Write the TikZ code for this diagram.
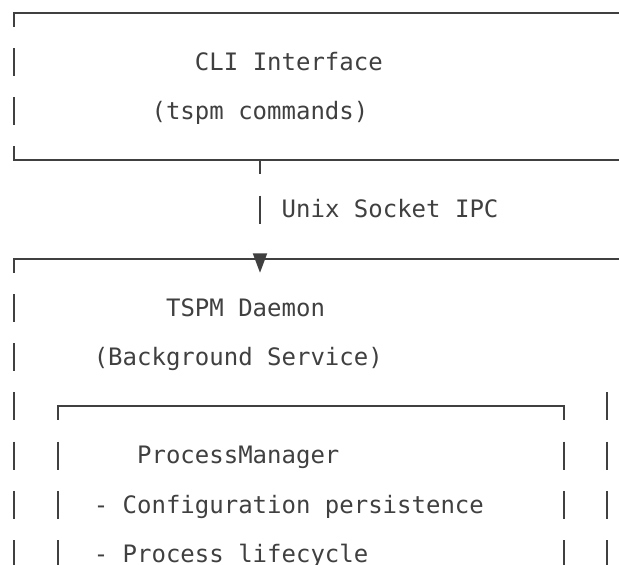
\documentclass[tikz,border=0pt]{standalone}
\usepackage{fontspec}
\newfontfamily\diagfont{DejaVu Sans Mono}
\usetikzlibrary{
arrows.meta,
positioning,
}
\definecolor{ink}{HTML}{404040}
\tikzset{
every node/.style={inner sep=0pt, outer sep=0pt},
monotext/.style={anchor=base west, text=ink, font=\diagfont\fontsize{18pt}{18pt}\selectfont},
frame/.style={rectangle, anchor=north west},
hline/.style={draw=ink, line width=1.5pt, line cap=rect},
vline/.style={draw=ink, line width=1.5pt, dash pattern=on 20.955pt off 15.945pt, dash phase=10.4775pt},
rim/.style={vline, dash phase=0pt},
link/.style={draw=ink, line width=1.5pt, dash pattern=on 10.4775pt off 15.945pt on 20.955pt off 40pt,
  -{Triangle[width=10.5pt,length=14.6pt]}},
}

\begin{document}
\begin{tikzpicture}[x=10.84pt, y=-36.9pt]
\useasboundingbox (0pt,0pt) rectangle (464.25pt,-423.75pt);
\fill[white] (0pt,0pt) rectangle (464.25pt,-423.75pt);
\clip (0pt,0pt) rectangle (464.25pt,-423.75pt);
\begin{scope}[shift={(5.3pt,-15.83pt)}]
    % boxes: corners sit on the line midpoints of the text rows
    \node (cli) [frame, minimum width=50*10.84pt, minimum height=3*36.9pt] at (0.5,-0.1689) {};
    \node (daemon) [frame, minimum width=50*10.84pt, minimum height=9*36.9pt] at (0.5,4.8311) {};
    \node (pm) [frame, minimum width=35*10.84pt, minimum height=6*36.9pt] at (3.5,7.8311) {};
    \draw[hline] (cli.north west) -- (cli.north east);
    \draw[vline] (cli.north west) -- (cli.south west);
    \draw[hline] (cli.south west) -- (cli.south east);
    \draw[hline] (daemon.north west) -- (daemon.north east);
    \draw[vline] (daemon.north west) -- (daemon.south west);
    \coordinate (edge) at (41.5,7.5472);
    \draw[rim] (edge) -- (edge |- daemon.south);
    \draw[hline] (pm.north west) -- (pm.north east);
    \draw[vline] (pm.north west) -- (pm.south west);
    \draw[vline] (pm.north east) -- (pm.south east);
    % texts
    \node (cli title) [monotext] at (13,1) {CLI Interface};
    \node (cli note) [monotext] at (10,2) {(tspm commands)};
    \node (ipc) [monotext] at (19,4) {Unix Socket IPC};
    \node (daemon title) [monotext] at (11,6) {TSPM Daemon};
    \node (daemon note) [monotext] at (6,7) {(Background Service)};
    \node (pm title) [monotext] at (9,9) {ProcessManager};
    \node (pm item1) [monotext] at (6,10) {- Configuration persistence};
    \node (pm item2) [monotext] at (6,11) {- Process lifecycle};
    % socket link
    \coordinate (tip) at (17.5,5.115);
    \draw[link] (cli.south west -| tip) -- (tip);
\end{scope}
\end{tikzpicture}
\end{document}
